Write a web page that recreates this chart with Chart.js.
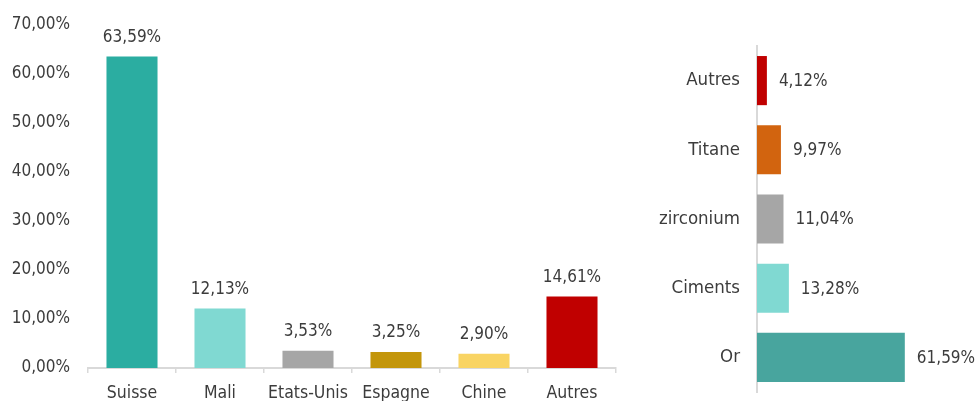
<!DOCTYPE html>
<html>
<head>
<meta charset="utf-8">
<script src="https://cdn.jsdelivr.net/npm/chart.js@4"></script>
<style>
  html, body { margin: 0; padding: 0; background: #fff; }
  #wrap { position: relative; width: 978px; height: 401px; overflow: hidden; }
  #pays { position: absolute; left: 0; top: 0; }
  #produits { position: absolute; left: 650px; top: 0; }
</style>
</head>
<body>
<div id="wrap">
  <canvas id="pays" width="640" height="401"></canvas>
  <canvas id="produits" width="328" height="401"></canvas>
</div>
<script>
// exportations par pays de destination
const paysLabels = ['Suisse', 'Mali', 'Etats-Unis', 'Espagne', 'Chine', 'Autres']
const paysValues = [63.59, 12.13, 3.53, 3.25, 2.90, 14.61]
const paysColors = ['#2bada1', '#80d9d2', '#a6a6a6', '#c3960b', '#f9d463', '#c00000']

// exportations par produit
const produitLabels = ['Autres', 'Titane', 'zirconium', 'Ciments', 'Or']
const produitValues = [4.12, 9.97, 11.04, 13.28, 61.59]
const produitColors = ['#c00000', '#d2640f', '#a6a6a6', '#80d9d2', '#48a59e']

const yTicks = [0, 10, 20, 30, 40, 50, 60, 70]

const TEXT = '#3c3c3c'
const FONT = '"DejaVu Sans Condensed", "DejaVu Sans"'

function frPct(v) {
  return v.toFixed(2).replace('.', ',') + '%'
}

// writes the value next to each bar
const valueLabels = {
  id: 'valueLabels',
  afterDatasetsDraw(chart, args, opts) {
    const { ctx } = chart
    const meta = chart.getDatasetMeta(0)
    const values = chart.data.datasets[0].data
    ctx.save()
    ctx.fillStyle = TEXT
    ctx.font = `${opts.size}px ${FONT}`
    ctx.textBaseline = 'middle'
    meta.data.forEach((bar, i) => {
      if (opts.horizontal) {
        ctx.textAlign = 'left'
        ctx.fillText(frPct(values[i]), bar.x + 12, bar.y + 1)
      } else {
        ctx.textAlign = 'center'
        ctx.fillText(frPct(values[i]), bar.x, bar.y - 19)
      }
    })
    ctx.restore()
  }
}

// tick padding should only push labels sideways, not shrink the plot
function noVerticalPadding(scale) {
  scale.paddingTop = 0
  scale.paddingBottom = 0
}

new Chart(document.getElementById('pays'), {
  type: 'bar',
  data: {
    labels: paysLabels,
    datasets: [{
      data: paysValues,
      backgroundColor: paysColors,
      categoryPercentage: 1,
      barPercentage: 0.58
    }]
  },
  plugins: [valueLabels],
  options: {
    responsive: false,
    animation: false,
    layout: { padding: { top: 25, right: 24, bottom: 0, left: 0 } },
    plugins: {
      legend: { display: false },
      tooltip: { enabled: false },
      valueLabels: { size: 17, horizontal: false }
    },
    scales: {
      x: {
        border: { display: true, color: '#d9d9d9', width: 2 },
        grid: { display: true, drawOnChartArea: false, drawTicks: true, tickLength: 5, color: '#d9d9d9', lineWidth: 1.5, offset: true },
        ticks: { color: TEXT, font: { family: FONT, size: 17.5 }, padding: 10, maxRotation: 0, autoSkip: false },
        afterFit(scale) { scale.height = 33 }
      },
      y: {
        min: 0,
        max: 70,
        border: { display: false },
        grid: { display: false, drawTicks: false },
        afterBuildTicks(scale) { scale.ticks = yTicks.map(v => ({ value: v })) },
        ticks: {
          color: TEXT,
          font: { family: FONT, size: 17 },
          padding: 18,
          callback: v => frPct(v)
        },
        afterFit(scale) {
          scale.width = 88
          noVerticalPadding(scale)
        }
      }
    }
  }
})

new Chart(document.getElementById('produits'), {
  type: 'bar',
  data: {
    labels: produitLabels,
    datasets: [{
      data: produitValues,
      backgroundColor: produitColors,
      categoryPercentage: 1,
      barPercentage: 0.71
    }]
  },
  plugins: [valueLabels],
  options: {
    indexAxis: 'y',
    responsive: false,
    animation: false,
    layout: { padding: { top: 46, right: 29, bottom: 9, left: 0 } },
    plugins: {
      legend: { display: false },
      tooltip: { enabled: false },
      valueLabels: { size: 17, horizontal: true }
    },
    scales: {
      x: {
        min: 0,
        max: 80,
        display: false
      },
      y: {
        border: { display: true, color: '#d9d9d9', width: 2 },
        grid: { display: false, drawTicks: false },
        ticks: { color: TEXT, font: { family: FONT, size: 18.5 }, padding: 17, autoSkip: false },
        afterFit(scale) {
          scale.width = 107
          noVerticalPadding(scale)
        }
      }
    }
  }
})
</script>
</body>
</html>
